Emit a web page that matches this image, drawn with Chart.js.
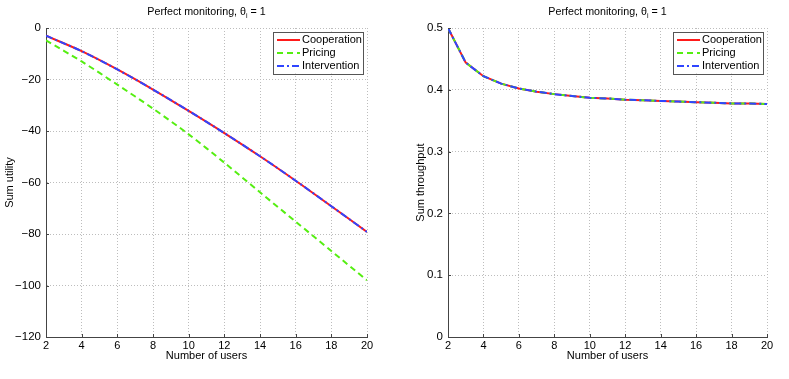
<!DOCTYPE html>
<html>
<head>
<meta charset="utf-8">
<script src="https://cdn.jsdelivr.net/npm/chart.js@4/dist/chart.umd.min.js"></script>
<style>
  body { margin: 0; background: #fff; }
  .box { position: absolute; top: 0; height: 379px; }
  #left { left: 0; width: 394px; }
  #right { left: 394px; width: 395px; }
</style>
</head>
<body>
<div class="box" id="left"><canvas id="utilChart"></canvas></div>
<div class="box" id="right"><canvas id="thrChart"></canvas></div>
<script>
// number of users
const users = [2, 4, 6, 8, 10, 12, 14, 16, 18, 20];
const usersAll = [2, 3, 4, 5, 6, 7, 8, 9, 10, 11, 12, 13, 14, 15, 16, 17, 18, 19, 20];

// sum utility (left)
const utilCooperation = [-3.0, -9.0, -16.1, -23.9, -32.2, -40.8, -49.8, -59.3, -69.2, -79.2];
const utilPricing = [-4.8, -13.0, -22.0, -31.3, -41.3, -52.3, -63.8, -75.2, -86.6, -98.0];
const utilIntervention = [-3.0, -9.0, -16.1, -23.9, -32.2, -40.8, -49.8, -59.3, -69.2, -79.2];

// sum throughput (right)
const thrCooperation = [0.5, 0.444, 0.422, 0.410, 0.402, 0.397, 0.393, 0.390, 0.387, 0.386, 0.384, 0.383, 0.382, 0.381, 0.380, 0.379, 0.378, 0.378, 0.377];
const thrPricing = [0.5, 0.444, 0.422, 0.410, 0.402, 0.397, 0.393, 0.390, 0.387, 0.386, 0.384, 0.383, 0.382, 0.381, 0.380, 0.379, 0.378, 0.378, 0.377];
const thrIntervention = [0.5, 0.444, 0.422, 0.410, 0.402, 0.397, 0.393, 0.390, 0.387, 0.386, 0.384, 0.383, 0.382, 0.381, 0.380, 0.379, 0.378, 0.378, 0.377];

const seriesNames = ['Cooperation', 'Pricing', 'Intervention'];
const seriesColors = ['#ff1a1a', '#55ee11', '#2f45ff'];
const seriesDash = [[], [6, 4], [7, 3, 2, 3]];

const FONT = 'Liberation Sans, Arial, sans-serif';

function toPoints(xs, ys) {
    return xs.map((x, i) => ({ x: x, y: ys[i] }));
}

function makeDatasets(xs, lists, tension) {
    return lists.map((ys, i) => ({
        label: seriesNames[i],
        data: toPoints(xs, ys),
        borderColor: seriesColors[i],
        borderWidth: 2,
        borderDash: seriesDash[i],
        pointRadius: 0,
        fill: false,
        tension: tension,
        order: lists.length - i  // later series on top, like matlab
    }));
}

// matlab style: title with subscript, inward ticks, boxed legend
const matlabPlugin = {
    id: 'matlab',
    afterDraw(chart) {
        const ctx = chart.ctx;
        const a = chart.chartArea;
        const xs = chart.scales.x, ys = chart.scales.y;
        ctx.save();

        // inward ticks
        ctx.strokeStyle = '#444';
        ctx.lineWidth = 1;
        ctx.setLineDash([]);
        xs.ticks.forEach(t => {
            const px = Math.round(xs.getPixelForValue(t.value)) + 0.5;
            ctx.beginPath();
            ctx.moveTo(px, a.bottom);
            ctx.lineTo(px, a.bottom - 3);
            ctx.stroke();
        });
        ys.ticks.forEach(t => {
            const py = Math.round(ys.getPixelForValue(t.value)) + 0.5;
            ctx.beginPath();
            ctx.moveTo(a.left, py);
            ctx.lineTo(a.left + 3, py);
            ctx.stroke();
        });

        // title
        ctx.fillStyle = '#000';
        ctx.textBaseline = 'alphabetic';
        const f1 = '10.7px ' + FONT, f2 = '7px ' + FONT;
        ctx.font = f1;
        const p1 = 'Perfect monitoring, \u03b8';
        const p3 = ' = 1';
        const w1 = ctx.measureText(p1).width;
        const w3 = ctx.measureText(p3).width;
        ctx.font = f2;
        const w2 = ctx.measureText('i').width;
        let tx = (a.left + a.right) / 2 - (w1 + w2 + w3) / 2;
        const ty = 15;
        ctx.font = f1;
        ctx.textAlign = 'left';
        ctx.fillText(p1, tx, ty);
        ctx.font = f2;
        ctx.fillText('i', tx + w1, ty + 3);
        ctx.font = f1;
        ctx.fillText(p3, tx + w1 + w2, ty);

        // legend
        const bw = 90, bh = 42;
        const bx = a.right - 4 - bw, by = a.top + 3.5;
        ctx.fillStyle = '#fff';
        ctx.fillRect(bx, by, bw, bh);
        ctx.strokeStyle = '#555';
        ctx.lineWidth = 1;
        ctx.strokeRect(Math.round(bx) + 0.5, Math.round(by) + 0.5, bw, bh);
        ctx.font = '11px ' + FONT;
        ctx.textBaseline = 'middle';
        chart.data.datasets.forEach((ds, i) => {
            const ry = by + 8.5 + i * 13;
            ctx.strokeStyle = ds.borderColor;
            ctx.lineWidth = 2;
            ctx.setLineDash(ds.borderDash);
            ctx.beginPath();
            ctx.moveTo(bx + 4, ry);
            ctx.lineTo(bx + 27, ry);
            ctx.stroke();
            ctx.setLineDash([]);
            ctx.fillStyle = '#000';
            ctx.fillText(ds.label, bx + 29, ry);
        });
        ctx.restore();
    }
};

function makeChart(canvasId, xs, lists, tension, yCfg, yTitle, yWidth, rightPad) {
    return new Chart(document.getElementById(canvasId), {
        type: 'line',
        data: { datasets: makeDatasets(xs, lists, tension) },
        options: {
            responsive: true,
            maintainAspectRatio: false,
            animation: false,
            layout: { padding: { top: 28, right: rightPad, bottom: 0, left: 0 } },
            plugins: {
                legend: { display: false },
                title: { display: false },
                tooltip: { enabled: false }
            },
            scales: {
                x: {
                    type: 'linear',
                    min: 2,
                    max: 20,
                    ticks: { stepSize: 2, padding: 2, color: '#000', font: { family: FONT, size: 11 } },
                    grid: { color: '#bdbdbd', drawTicks: false },
                    border: { display: true, color: '#444', width: 1, dash: [1, 2] },
                    title: { display: true, text: 'Number of users', color: '#000', font: { family: FONT, size: 11 }, padding: { top: 0, bottom: 16 } },
                    afterFit: s => { s.height = 42; }
                },
                y: {
                    type: 'linear',
                    min: yCfg.min,
                    max: yCfg.max,
                    ticks: {
                        stepSize: yCfg.step,
                        padding: 5,
                        color: '#000',
                        font: { family: FONT, size: 11.5 },
                        callback: v => String(Math.round(v * 10) / 10).replace('-', '\u2212')
                    },
                    grid: { color: '#bdbdbd', drawTicks: false },
                    border: { display: true, color: '#444', width: 1, dash: [1, 2] },
                    title: { display: true, text: yTitle, color: '#000', font: { family: FONT, size: 11 }, padding: { top: yCfg.titlePad, bottom: 0 } },
                    afterFit: s => { s.width = yWidth; }
                }
            }
        },
        plugins: [matlabPlugin]
    });
}

makeChart('utilChart', users, [utilCooperation, utilPricing, utilIntervention], 0.3,
    { min: -120, max: 0, step: 20, titlePad: 3 }, 'Sum utility', 46, 27);
makeChart('thrChart', usersAll, [thrCooperation, thrPricing, thrIntervention], 0,
    { min: 0, max: 0.5, step: 0.1, titlePad: 20 }, 'Sum throughput', 54, 22);
</script>
</body>
</html>
